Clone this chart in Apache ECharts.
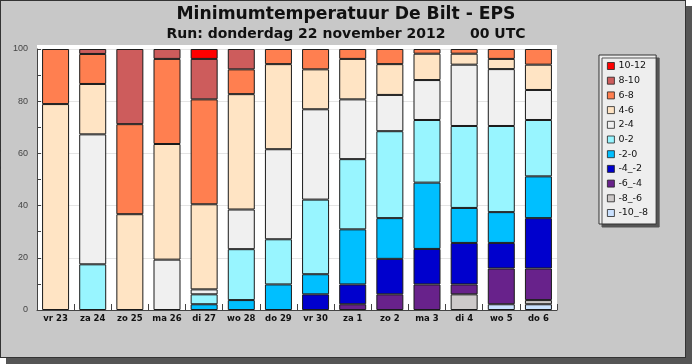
<!DOCTYPE html>
<html>
<head>
<meta charset="utf-8">
<script src="https://cdn.jsdelivr.net/npm/echarts@6/dist/echarts.min.js"></script>
<style>
  html, body { margin: 0; padding: 0; background: #ffffff; }
  #wrap { position: relative; width: 692px; height: 364px; overflow: hidden; }
  #panel { position: absolute; left: 0; top: 0; width: 684px; height: 356px; background: #c8c8c8;
           border: 1px solid #333; box-shadow: 6px 6px 0 #555; }
  #chart { position: absolute; left: 0; top: 0; width: 692px; height: 364px; }
</style>
</head>
<body>
<div id="wrap"><div id="panel"></div><div id="chart"></div></div>
<script>
// Categories (days)
const categories = ['vr 23', 'za 24', 'zo 25', 'ma 26', 'di 27', 'wo 28', 'do 29', 'vr 30', 'za 1', 'zo 2', 'ma 3', 'di 4', 'wo 5', 'do 6'];

// Probabilities (%) per temperature class, bottom of stack first
const m10_m8 = [null, null, null, null, null, null, null, null, null, null, null, null, 2.2, 2.2];
const m8_m6  = [null, null, null, null, null, null, null, null, null, null, null, 6.0, null, 1.6];
const m6_m4  = [null, null, null, null, null, null, null, null, 2.2, 6.0, 9.8, 3.8, 13.7, 12.1];
const m4_m2  = [null, null, null, null, null, null, null, 6.0, 7.6, 13.6, 13.6, 15.9, 9.8, 19.3];
const m2_0   = [null, null, null, null, 2.2, 3.8, 9.8, 7.7, 21.1, 15.6, 25.4, 13.4, 11.8, 16.0];
const p0_2   = [null, 17.5, null, null, 3.8, 19.5, 17.3, 28.6, 26.9, 33.3, 24.0, 31.4, 33.0, 21.6];
const p2_4   = [null, 49.8, null, 19.3, 1.9, 15.2, 34.5, 34.6, 22.9, 13.9, 15.3, 23.5, 21.8, 11.5];
const p4_6   = [78.9, 19.3, 36.7, 44.3, 32.6, 44.2, 32.6, 15.3, 15.5, 11.8, 10.1, 4.2, 3.9, 9.7];
const p6_8   = [21.1, 11.5, 34.5, 32.6, 40.2, 9.5, 5.8, 7.8, 3.8, 5.8, 1.8, 1.8, 3.8, 6.0];
const p8_10  = [null, 1.9, 28.8, 3.8, 15.5, 7.8, null, null, null, null, null, null, null, null];
const p10_12 = [null, null, null, null, 3.8, null, null, null, null, null, null, null, null, null];

// Series names and colours (bottom first)
const seriesNames = ['-10_-8', '-8_-6', '-6_-4', '-4_-2', '-2-0', '0-2', '2-4', '4-6', '6-8', '8-10', '10-12'];
const seriesData = [m10_m8, m8_m6, m6_m4, m4_m2, m2_0, p0_2, p2_4, p4_6, p6_8, p8_10, p10_12];
const seriesColors = ['#cae1ff', '#cdc9c9', '#68228b', '#0000cd', '#00bfff', '#98f5ff', '#f0f0f0', '#ffe4c4', '#ff7f50', '#cd5c5c', '#ff0000'];

// Axis ticks
const yTicks = [0, 20, 40, 60, 80, 100];

const chart = echarts.init(document.getElementById('chart'), null, { renderer: 'canvas' });

const series = seriesNames.map((name, i) => ({
  name: name,
  type: 'bar',
  stack: 'kans',
  barWidth: 27,
  data: seriesData[i],
  itemStyle: { color: seriesColors[i], borderColor: '#1a1a1a', borderWidth: 1 },
  emphasis: { disabled: true },
  animation: false
}));

chart.setOption({
  animation: false,
  backgroundColor: 'transparent',
  title: [
    { text: 'Minimumtemperatuur De Bilt - EPS', left: 'center', top: 1,
      textStyle: { fontFamily: 'DejaVu Sans', fontWeight: 'bold', fontSize: 17.2, color: '#111' } },
    { text: 'Run: donderdag 22 november 2012     00 UTC', left: 'center', top: 22,
      textStyle: { fontFamily: 'DejaVu Sans', fontWeight: 'bold', fontSize: 14, color: '#111' } }
  ],
  graphic: [
    { type: 'rect', z: -1, silent: true, shape: { x: 37, y: 45, width: 520, height: 265 },
      style: { fill: '#ffffff' } }
  ],
  legend: {
    orient: 'vertical',
    left: 599, top: 55,
    data: seriesNames.slice().reverse(),
    backgroundColor: '#eeeeee',
    borderColor: '#333',
    borderWidth: 1,
    shadowColor: '#555',
    shadowBlur: 0,
    shadowOffsetX: 3,
    shadowOffsetY: 3,
    padding: [4, 8, 4, 8],
    itemWidth: 7,
    itemHeight: 7,
    itemGap: 0.7,
    icon: 'rect',
    selectedMode: false,
    itemStyle: { borderWidth: 0.8, borderColor: '#222' },
    textStyle: { fontFamily: 'DejaVu Sans', fontSize: 9.5, color: '#111', lineHeight: 14, padding: [0, 0, 0, -1] }
  },
  grid: { left: 37, right: 135, top: 49, bottom: 54, containLabel: false, outerBoundsMode: 'none' },
  xAxis: {
    type: 'category',
    data: categories,
    boundaryGap: true,
    axisLine: { lineStyle: { color: '#444', width: 1 } },
    axisTick: { show: true, inside: true, length: 6, interval: 0, lineStyle: { color: '#444' } },
    axisLabel: { interval: 0, margin: 4, fontFamily: 'DejaVu Sans', fontWeight: 'bold', fontSize: 8.5, color: '#111' }
  },
  yAxis: {
    type: 'value',
    min: 0, max: 100, interval: 20,
    name: 'Kans (%)',
    nameLocation: 'middle',
    nameGap: 27,
    nameTextStyle: { fontFamily: 'DejaVu Sans', fontWeight: 'bold', fontSize: 13, color: '#111' },
    axisLine: { show: true, lineStyle: { color: '#444', width: 1 } },
    axisTick: { show: true, inside: true, length: 4, lineStyle: { color: '#444' } },
    minorTick: { show: true, splitNumber: 2, length: 4, lineStyle: { color: '#444' } },
    axisLabel: { margin: 9, fontFamily: 'Liberation Sans', fontSize: 9, color: '#444',
      formatter: v => (yTicks.indexOf(v) >= 0 ? String(v) : '') },
    splitLine: { show: true, lineStyle: { color: '#e4e4e4', width: 1 } }
  },
  series: series
});
</script>
</body>
</html>
